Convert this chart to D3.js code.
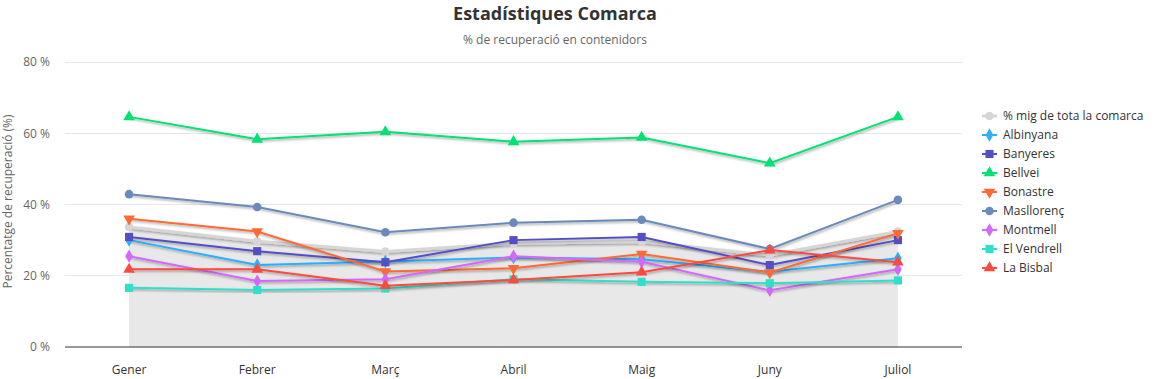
<!DOCTYPE html>
<html>
<head>
<meta charset="utf-8">
<script src="https://cdn.jsdelivr.net/npm/d3@7"></script>
<style>
  html, body { margin: 0; padding: 0; background: #fff; }
  svg { display: block; font-family: "Open Sans", "Segoe UI", sans-serif; }
</style>
</head>
<body>
<svg id="chart" width="1155" height="379"></svg>
<script>
const months = ["Gener", "Febrer", "Març", "Abril", "Maig", "Juny", "Juliol"];
const yTicks = [0, 20, 40, 60, 80];

const meanName = "% mig de tota la comarca";
const meanValues = [33.7, 29.7, 26.8, 29.1, 29.6, 25.8, 32.4];

const seriesNames = ["Albinyana", "Banyeres", "Bellvei", "Bonastre", "Masllorenç", "Montmell", "El Vendrell", "La Bisbal"];
const albinyana = [30.0, 23.0, 24.0, 25.1, 24.6, 21.1, 24.9];
const banyeres = [30.9, 26.9, 23.8, 30.0, 30.9, 23.0, 30.0];
const bellvei = [64.6, 58.3, 60.4, 57.6, 58.8, 51.6, 64.6];
const bonastre = [36.0, 32.4, 21.2, 22.1, 26.1, 20.9, 31.9];
const masllorenc = [42.9, 39.3, 32.2, 34.9, 35.7, 27.5, 41.3];
const montmell = [25.5, 18.5, 19.0, 25.5, 23.9, 15.9, 21.8];
const vendrell = [16.6, 16.0, 16.4, 19.0, 18.3, 17.9, 18.7];
const bisbal = [21.8, 21.8, 17.2, 18.8, 21.0, 27.2, 23.8];

const seriesValues = [albinyana, banyeres, bellvei, bonastre, masllorenc, montmell, vendrell, bisbal];
const seriesColors = ["#2caffe", "#544fc5", "#00e272", "#fe6a35", "#6b8abc", "#d568fb", "#2ee0ca", "#fa4b42"];
const seriesSymbols = [d3.symbolDiamond, d3.symbolSquare, d3.symbolTriangle, "triangle-down", d3.symbolCircle, d3.symbolDiamond, d3.symbolSquare, d3.symbolTriangle];

const svg = d3.select("#chart");
const plot = { left: 65, right: 962, top: 62, bottom: 347 };

const defs = svg.append("defs");
const f = defs.append("filter").attr("id", "shadow").attr("x", "-5%").attr("y", "-20%").attr("width", "110%").attr("height", "140%");
f.append("feDropShadow").attr("dx", 1).attr("dy", 1.5).attr("stdDeviation", 1.3).attr("flood-color", "#000").attr("flood-opacity", 0.35);

const x = d3.scaleBand().domain(months).range([plot.left, plot.right]);
const xc = m => x(m) + x.bandwidth() / 2;
const y = d3.scaleLinear().domain([0, 80]).range([plot.bottom, plot.top]);

// title
svg.append("text").attr("x", 555).attr("y", 20).attr("text-anchor", "middle")
  .attr("font-size", 18).attr("font-weight", "bold").attr("fill", "#333").text("Estadístiques Comarca");
svg.append("text").attr("x", 555).attr("y", 44).attr("text-anchor", "middle")
  .attr("font-size", 12).attr("fill", "#666").text("% de recuperació en contenidors");

// grid
const gGrid = svg.append("g");
gGrid.selectAll("line").data(yTicks.filter(t => t > 0)).join("line")
  .attr("x1", plot.left).attr("x2", plot.right)
  .attr("y1", d => y(d)).attr("y2", d => y(d))
  .attr("stroke", "#e6e6e6").attr("stroke-width", 1).attr("shape-rendering", "crispEdges");

// y axis
const yAxis = d3.axisLeft(y).tickValues(yTicks).tickSize(0).tickPadding(0).tickFormat(d => d + " %");
const gy = svg.append("g").attr("transform", `translate(${plot.left - 15},0)`).call(yAxis);
gy.select(".domain").remove();
gy.selectAll("text").attr("font-size", 12).attr("fill", "#666").attr("font-family", "Open Sans, sans-serif").attr("dy", "0.33em");

svg.append("text").attr("transform", `translate(12,${(plot.top + plot.bottom) / 2 - 3}) rotate(-90)`)
  .attr("text-anchor", "middle").attr("font-size", 12).attr("fill", "#666")
  .text("Percentatge de recuperació (%)");

// mean area
const area = d3.area().x((d, i) => xc(months[i])).y0(y(0)).y1(d => y(d));
svg.append("path").datum(meanValues).attr("d", area).attr("fill", "#e8e8e8");

// x axis
const xAxis = d3.axisBottom(x).tickSize(0).tickPadding(0);
const gx = svg.append("g").attr("transform", `translate(0,${plot.bottom})`).call(xAxis);
gx.select(".domain").attr("stroke", "#333").attr("stroke-width", 1.2).attr("d", `M${plot.left},0H${plot.right}`);
gx.selectAll("text").attr("font-size", 12).attr("fill", "#333").attr("font-family", "Open Sans, sans-serif").attr("y", 27).attr("dy", 0);

const line = d3.line().x((d, i) => xc(months[i])).y(d => y(d));

function symPath(sym, size) {
  if (sym === "triangle-down") return d3.symbol(d3.symbolTriangle, size)();
  return d3.symbol(sym, size)();
}
function symTransform(sym, px, py) {
  if (sym === "triangle-down") return `translate(${px},${py}) rotate(180)`;
  return `translate(${px},${py})`;
}
function sizeOf(sym) {
  if (sym === d3.symbolCircle) return 58;
  if (sym === d3.symbolSquare) return 66;
  if (sym === d3.symbolDiamond) return 52;
  return 58;
}

// mean line
const gMean = svg.append("g");
gMean.append("path").datum(meanValues).attr("d", line).attr("fill", "none")
  .attr("stroke", "#d6d6d6").attr("stroke-width", 3).attr("filter", "url(#shadow)");
gMean.selectAll("path.m").data(meanValues).join("path").attr("class", "m")
  .attr("d", symPath(d3.symbolCircle, 58))
  .attr("transform", (d, i) => symTransform(d3.symbolCircle, xc(months[i]), y(d)))
  .attr("fill", "#d6d6d6");

// series
seriesValues.forEach((vals, si) => {
  const g = svg.append("g");
  g.append("path").datum(vals).attr("d", line).attr("fill", "none")
    .attr("stroke", seriesColors[si]).attr("stroke-width", 2).attr("filter", "url(#shadow)");
  const sym = seriesSymbols[si];
  g.selectAll("path.m").data(vals).join("path").attr("class", "m")
    .attr("d", symPath(sym, sizeOf(sym)))
    .attr("transform", (d, i) => symTransform(sym, xc(months[i]), y(d)))
    .attr("fill", seriesColors[si]);
});

// legend
const legendItems = [{ name: meanName, color: "#d6d6d6", sym: d3.symbolCircle, w: 3 }]
  .concat(seriesNames.map((n, i) => ({ name: n, color: seriesColors[i], sym: seriesSymbols[i], w: 2 })));
const gl = svg.append("g");
legendItems.forEach((it, i) => {
  const cy = 116 + i * 19;
  gl.append("line").attr("x1", 982).attr("x2", 997).attr("y1", cy).attr("y2", cy)
    .attr("stroke", it.color).attr("stroke-width", it.w);
  gl.append("path").attr("d", symPath(it.sym, sizeOf(it.sym)))
    .attr("transform", symTransform(it.sym, 989.5, cy)).attr("fill", it.color);
  gl.append("text").attr("x", 1003).attr("y", cy).attr("dy", "0.35em")
    .attr("font-size", 12).attr("fill", "#333").text(it.name);
});
</script>
</body>
</html>
